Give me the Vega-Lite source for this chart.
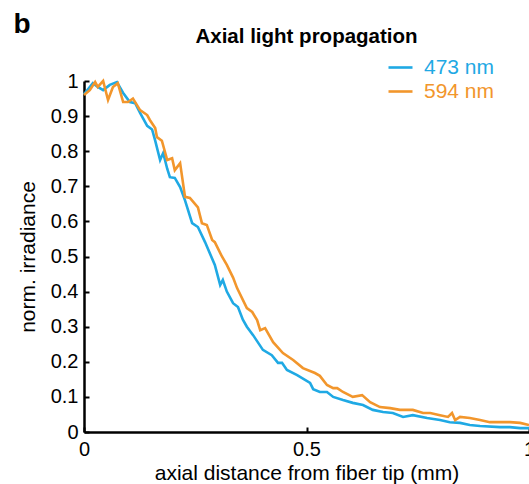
{
  "$schema": "https://vega.github.io/schema/vega-lite/v6.json",
  "width": 445,
  "height": 351,
  "autosize": "none",
  "padding": {"left": 84, "top": 81, "right": 0, "bottom": 52},
  "background": "white",
  "config": {
    "view": {"stroke": null},
    "font": "Liberation Sans",
    "axis": {"grid": false, "domainColor": "black", "domainWidth": 2.5, "tickColor": "black", "tickWidth": 2, "labelColor": "black", "titleColor": "black", "labelFont": "Liberation Sans", "titleFont": "Liberation Sans", "titleFontWeight": "normal", "labelFontSize": 20, "titleFontSize": 21}
  },
  "title": {"text": "Axial light propagation", "fontSize": 20.5, "font": "Liberation Sans", "fontWeight": "bold", "anchor": "middle", "offset": 0, "baseline": "alphabetic", "dy": 53, "color": "black"},
  "datasets": {
    "curves": [
      {"d": 0.0, "v": 0.962, "s": "473 nm"},
      {"d": 0.02, "v": 0.994, "s": "473 nm"},
      {"d": 0.031, "v": 0.983, "s": "473 nm"},
      {"d": 0.043, "v": 0.974, "s": "473 nm"},
      {"d": 0.058, "v": 0.989, "s": "473 nm"},
      {"d": 0.074, "v": 0.997, "s": "473 nm"},
      {"d": 0.088, "v": 0.966, "s": "473 nm"},
      {"d": 0.103, "v": 0.94, "s": "473 nm"},
      {"d": 0.115, "v": 0.937, "s": "473 nm"},
      {"d": 0.126, "v": 0.909, "s": "473 nm"},
      {"d": 0.142, "v": 0.872, "s": "473 nm"},
      {"d": 0.153, "v": 0.862, "s": "473 nm"},
      {"d": 0.16, "v": 0.83, "s": "473 nm"},
      {"d": 0.171, "v": 0.775, "s": "473 nm"},
      {"d": 0.178, "v": 0.795, "s": "473 nm"},
      {"d": 0.187, "v": 0.75, "s": "473 nm"},
      {"d": 0.193, "v": 0.726, "s": "473 nm"},
      {"d": 0.204, "v": 0.724, "s": "473 nm"},
      {"d": 0.216, "v": 0.698, "s": "473 nm"},
      {"d": 0.227, "v": 0.66, "s": "473 nm"},
      {"d": 0.243, "v": 0.595, "s": "473 nm"},
      {"d": 0.256, "v": 0.584, "s": "473 nm"},
      {"d": 0.272, "v": 0.541, "s": "473 nm"},
      {"d": 0.294, "v": 0.476, "s": "473 nm"},
      {"d": 0.306, "v": 0.419, "s": "473 nm"},
      {"d": 0.312, "v": 0.433, "s": "473 nm"},
      {"d": 0.321, "v": 0.4, "s": "473 nm"},
      {"d": 0.335, "v": 0.367, "s": "473 nm"},
      {"d": 0.346, "v": 0.356, "s": "473 nm"},
      {"d": 0.357, "v": 0.32, "s": "473 nm"},
      {"d": 0.366, "v": 0.3, "s": "473 nm"},
      {"d": 0.38, "v": 0.276, "s": "473 nm"},
      {"d": 0.402, "v": 0.234, "s": "473 nm"},
      {"d": 0.422, "v": 0.219, "s": "473 nm"},
      {"d": 0.436, "v": 0.197, "s": "473 nm"},
      {"d": 0.445, "v": 0.197, "s": "473 nm"},
      {"d": 0.456, "v": 0.177, "s": "473 nm"},
      {"d": 0.479, "v": 0.162, "s": "473 nm"},
      {"d": 0.508, "v": 0.14, "s": "473 nm"},
      {"d": 0.515, "v": 0.122, "s": "473 nm"},
      {"d": 0.53, "v": 0.114, "s": "473 nm"},
      {"d": 0.546, "v": 0.114, "s": "473 nm"},
      {"d": 0.56, "v": 0.1, "s": "473 nm"},
      {"d": 0.582, "v": 0.091, "s": "473 nm"},
      {"d": 0.604, "v": 0.083, "s": "473 nm"},
      {"d": 0.627, "v": 0.077, "s": "473 nm"},
      {"d": 0.649, "v": 0.063, "s": "473 nm"},
      {"d": 0.672, "v": 0.057, "s": "473 nm"},
      {"d": 0.694, "v": 0.054, "s": "473 nm"},
      {"d": 0.717, "v": 0.043, "s": "473 nm"},
      {"d": 0.739, "v": 0.048, "s": "473 nm"},
      {"d": 0.771, "v": 0.04, "s": "473 nm"},
      {"d": 0.8, "v": 0.034, "s": "473 nm"},
      {"d": 0.822, "v": 0.028, "s": "473 nm"},
      {"d": 0.845, "v": 0.026, "s": "473 nm"},
      {"d": 0.867, "v": 0.02, "s": "473 nm"},
      {"d": 0.89, "v": 0.017, "s": "473 nm"},
      {"d": 0.935, "v": 0.014, "s": "473 nm"},
      {"d": 0.957, "v": 0.014, "s": "473 nm"},
      {"d": 0.98, "v": 0.011, "s": "473 nm"},
      {"d": 1.0, "v": 0.011, "s": "473 nm"},
      {"d": 0.0, "v": 0.96, "s": "594 nm"},
      {"d": 0.013, "v": 0.974, "s": "594 nm"},
      {"d": 0.025, "v": 0.997, "s": "594 nm"},
      {"d": 0.031, "v": 0.983, "s": "594 nm"},
      {"d": 0.043, "v": 1.0, "s": "594 nm"},
      {"d": 0.054, "v": 0.946, "s": "594 nm"},
      {"d": 0.065, "v": 0.983, "s": "594 nm"},
      {"d": 0.076, "v": 0.994, "s": "594 nm"},
      {"d": 0.088, "v": 0.94, "s": "594 nm"},
      {"d": 0.099, "v": 0.94, "s": "594 nm"},
      {"d": 0.11, "v": 0.95, "s": "594 nm"},
      {"d": 0.126, "v": 0.917, "s": "594 nm"},
      {"d": 0.142, "v": 0.903, "s": "594 nm"},
      {"d": 0.148, "v": 0.889, "s": "594 nm"},
      {"d": 0.16, "v": 0.866, "s": "594 nm"},
      {"d": 0.164, "v": 0.84, "s": "594 nm"},
      {"d": 0.175, "v": 0.83, "s": "594 nm"},
      {"d": 0.187, "v": 0.775, "s": "594 nm"},
      {"d": 0.198, "v": 0.78, "s": "594 nm"},
      {"d": 0.204, "v": 0.746, "s": "594 nm"},
      {"d": 0.216, "v": 0.766, "s": "594 nm"},
      {"d": 0.227, "v": 0.67, "s": "594 nm"},
      {"d": 0.238, "v": 0.667, "s": "594 nm"},
      {"d": 0.256, "v": 0.64, "s": "594 nm"},
      {"d": 0.265, "v": 0.595, "s": "594 nm"},
      {"d": 0.276, "v": 0.59, "s": "594 nm"},
      {"d": 0.288, "v": 0.547, "s": "594 nm"},
      {"d": 0.294, "v": 0.541, "s": "594 nm"},
      {"d": 0.31, "v": 0.5, "s": "594 nm"},
      {"d": 0.321, "v": 0.476, "s": "594 nm"},
      {"d": 0.335, "v": 0.44, "s": "594 nm"},
      {"d": 0.344, "v": 0.41, "s": "594 nm"},
      {"d": 0.366, "v": 0.353, "s": "594 nm"},
      {"d": 0.378, "v": 0.342, "s": "594 nm"},
      {"d": 0.389, "v": 0.319, "s": "594 nm"},
      {"d": 0.396, "v": 0.29, "s": "594 nm"},
      {"d": 0.407, "v": 0.296, "s": "594 nm"},
      {"d": 0.425, "v": 0.256, "s": "594 nm"},
      {"d": 0.447, "v": 0.225, "s": "594 nm"},
      {"d": 0.47, "v": 0.205, "s": "594 nm"},
      {"d": 0.492, "v": 0.182, "s": "594 nm"},
      {"d": 0.519, "v": 0.168, "s": "594 nm"},
      {"d": 0.53, "v": 0.16, "s": "594 nm"},
      {"d": 0.546, "v": 0.134, "s": "594 nm"},
      {"d": 0.56, "v": 0.125, "s": "594 nm"},
      {"d": 0.569, "v": 0.125, "s": "594 nm"},
      {"d": 0.582, "v": 0.114, "s": "594 nm"},
      {"d": 0.604, "v": 0.1, "s": "594 nm"},
      {"d": 0.625, "v": 0.105, "s": "594 nm"},
      {"d": 0.643, "v": 0.085, "s": "594 nm"},
      {"d": 0.665, "v": 0.071, "s": "594 nm"},
      {"d": 0.688, "v": 0.068, "s": "594 nm"},
      {"d": 0.71, "v": 0.063, "s": "594 nm"},
      {"d": 0.739, "v": 0.063, "s": "594 nm"},
      {"d": 0.762, "v": 0.054, "s": "594 nm"},
      {"d": 0.778, "v": 0.054, "s": "594 nm"},
      {"d": 0.8, "v": 0.048, "s": "594 nm"},
      {"d": 0.818, "v": 0.043, "s": "594 nm"},
      {"d": 0.827, "v": 0.054, "s": "594 nm"},
      {"d": 0.834, "v": 0.034, "s": "594 nm"},
      {"d": 0.845, "v": 0.043, "s": "594 nm"},
      {"d": 0.867, "v": 0.04, "s": "594 nm"},
      {"d": 0.89, "v": 0.034, "s": "594 nm"},
      {"d": 0.912, "v": 0.028, "s": "594 nm"},
      {"d": 0.935, "v": 0.028, "s": "594 nm"},
      {"d": 0.957, "v": 0.028, "s": "594 nm"},
      {"d": 0.98, "v": 0.026, "s": "594 nm"},
      {"d": 1.0, "v": 0.02, "s": "594 nm"}
    ],
    "panel": [{"label": "b", "d": -0.139, "v": 1.137}]
  },
  "encoding": {
    "x": {"field": "d", "type": "quantitative", "scale": {"domain": [0, 1], "nice": false, "zero": false},
      "axis": {"values": [0, 0.5, 1], "format": "~g", "title": "axial distance from fiber tip (mm)", "labelFontSize": 20, "titleFontSize": 21, "tickSize": -5, "labelPadding": 12, "titlePadding": 3, "labelFlush": false, "labelOverlap": false}},
    "y": {"field": "v", "type": "quantitative", "scale": {"domain": [0, 1], "nice": false},
      "axis": {"values": [0, 0.1, 0.2, 0.3, 0.4, 0.5, 0.6, 0.7, 0.8, 0.9, 1], "format": "~g", "title": "norm. irradiance", "labelFontSize": 20, "titleFontSize": 21, "tickSize": -5, "labelPadding": 11, "titlePadding": 12, "labelFlush": false, "labelOverlap": false}}
  },
  "layer": [
    {
      "data": {"name": "curves"},
      "mark": {"type": "line", "strokeWidth": 2.6, "clip": false},
      "encoding": {
        "color": {"field": "s", "type": "nominal",
          "scale": {"domain": ["473 nm", "594 nm"], "range": ["#1FA9E4", "#F2962C"]},
          "legend": {"title": null, "orient": "none", "legendX": 303, "legendY": -27, "symbolType": "stroke", "symbolSize": 576, "symbolStrokeWidth": 2.6, "labelFontSize": 21, "labelFont": "Liberation Sans", "rowPadding": 0, "labelOffset": 10,
            "encode": {"labels": {"update": {"fill": {"scale": "color", "field": "value"}}}}}}
      }
    },
    {
      "data": {"name": "panel"},
      "mark": {"type": "text", "fontSize": 28, "fontWeight": "bold", "font": "Liberation Sans", "align": "center", "baseline": "alphabetic", "color": "black"},
      "encoding": {
        "text": {"field": "label"}
      }
    }
  ]
}
